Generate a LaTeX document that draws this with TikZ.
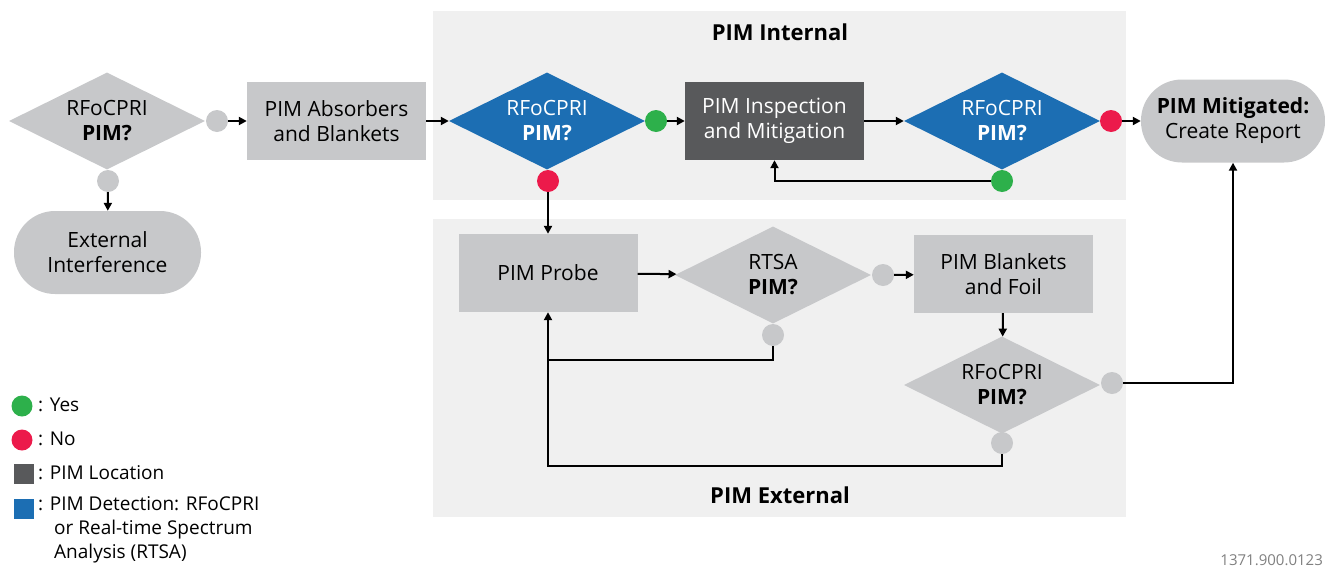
\documentclass[tikz,border=0pt]{standalone}
\usepackage{fontspec}
\setmainfont{Open Sans}
\usetikzlibrary{shapes.geometric,arrows.meta,calc}
\definecolor{boxgray}{HTML}{C7C8CA}
\definecolor{darkbox}{HTML}{58595B}
\definecolor{pimblue}{HTML}{1C6EB3}
\definecolor{panel}{HTML}{F0F0F0}
\definecolor{yesgreen}{HTML}{2DB04B}
\definecolor{nored}{HTML}{EC1A4B}
\definecolor{foot}{HTML}{808080}
\begin{document}
\begin{tikzpicture}[x=1pt,y=-1pt,
  base/.style={font=\fontsize{21}{25}\selectfont, align=center, inner sep=0pt},
  rbox/.style={base, rectangle, fill=boxgray, minimum width=179pt, minimum height=78pt},
  dbox/.style={rbox, fill=darkbox, text=white},
  gdia/.style={base, diamond, shape aspect=2, fill=boxgray, minimum width=196pt, minimum height=97pt},
  bdia/.style={gdia, fill=pimblue, text=white},
  term/.style={base, rectangle, rounded corners=41pt, fill=boxgray, minimum height=83pt},
  dot/.style={circle, minimum size=22pt, inner sep=0pt, fill=boxgray},
  ln/.style={line width=2pt},
  arr/.style={ln, -{Triangle[length=8pt,width=8pt]}},
  title/.style={font=\fontsize{22}{26}\selectfont\bfseries},
  legtxt/.style={font=\fontsize{19}{24}\selectfont, align=left, inner sep=0pt}
]
\useasboundingbox (0,0) rectangle (1325,568);
% panels
\fill[panel] (433,11) rectangle (1126,200);
\fill[panel] (433,219) rectangle (1126,517);
\node[title] (tint) at (780,32) {PIM Internal};
\node[title] (text) at (780,495) {PIM External};

% main nodes
\node[gdia] (d1) at (107,121) {RFoCPRI\\\textbf{PIM?}};
\node[rbox] (absorb) at (336.5,121) {PIM Absorbers\\and Blankets};
\node[bdia] (b1) at (547,121) {RFoCPRI\\\textbf{PIM?}};
\node[dbox] (insp) at (774.5,121) {PIM Inspection\\and Mitigation};
\node[bdia] (b2) at (1002,121) {RFoCPRI\\\textbf{PIM?}};
\node[term, minimum width=184pt] (mitig) at (1233,121) {\textbf{PIM Mitigated:}\\Create Report};
\node[term, minimum width=187pt] (extint) at (107.5,252.5) {External\\Interference};
\node[rbox] (probe) at (548,273) {PIM Probe};
\node[gdia] (rtsa) at (773,275) {RTSA\\\textbf{PIM?}};
\node[rbox] (blank) at (1003.5,274) {PIM Blankets\\and Foil};
\node[gdia] (d3) at (1002,385) {RFoCPRI\\\textbf{PIM?}};

% dots
\node[dot] (d1r) at (217,121) {};
\node[dot] (d1b) at (108,181) {};
\node[dot, fill=yesgreen] (b1r) at (656,121) {};
\node[dot, fill=nored] (b1b) at (548,181) {};
\node[dot, fill=nored] (b2r) at (1111,121) {};
\node[dot, fill=yesgreen] (b2b) at (1002,181) {};
\node[dot] (rtsar) at (883,275) {};
\node[dot] (rtsab) at (773,335) {};
\node[dot] (d3r) at (1112,383) {};
\node[dot] (d3b) at (1002,443) {};

\coordinate (j1) at (548,360);
\coordinate (j2) at (548,466);

% connectors
\draw[arr] (d1r) -- (absorb);
\draw[arr] (d1b) -- (extint);
\draw[arr] (absorb) -- (b1);
\draw[arr] (b1r) -- (insp);
\draw[arr] (insp) -- (b2);
\draw[arr] (b2r) -- (mitig);
\draw[arr] (b2b.west) -| (insp.south);
\draw[arr] (b1b) -- (probe);
\draw[arr] (probe) -- (rtsa);
\draw[arr] (rtsar) -- (blank);
\draw[arr] (blank) -- (d3);
\draw[ln] (rtsab.south) |- (j1);
\draw[arr] (d3b.south) |- (j2) -- (probe.south);
\draw[arr] (d3r.east) -| (mitig.south);

% legend
\node[dot, fill=yesgreen, minimum size=21pt] (lg1) at (22,406) {};
\node[legtxt, anchor=west] (lt1) at (38,405) {: Yes};
\node[dot, fill=nored, minimum size=21pt] (lg2) at (22,440) {};
\node[legtxt, anchor=west] (lt2) at (38,439) {: No};
\node[fill=darkbox, minimum size=20pt, inner sep=0pt] (lg3) at (24,474) {};
\node[legtxt, anchor=west] (lt3) at (38,473) {: PIM Location};
\node[fill=pimblue, minimum size=20pt, inner sep=0pt] (lg4) at (24,509) {};
\node[legtxt, anchor=north west] (lt4) at (38,496) {: PIM Detection: RFoCPRI\\\hspace*{16pt}or Real-time Spectrum\\\hspace*{16pt}Analysis (RTSA)};

\node[font=\fontsize{15}{17}\selectfont, text=foot, anchor=east, inner sep=0pt] (fn) at (1323,560) {1371.900.0123};
\end{tikzpicture}
\end{document}
